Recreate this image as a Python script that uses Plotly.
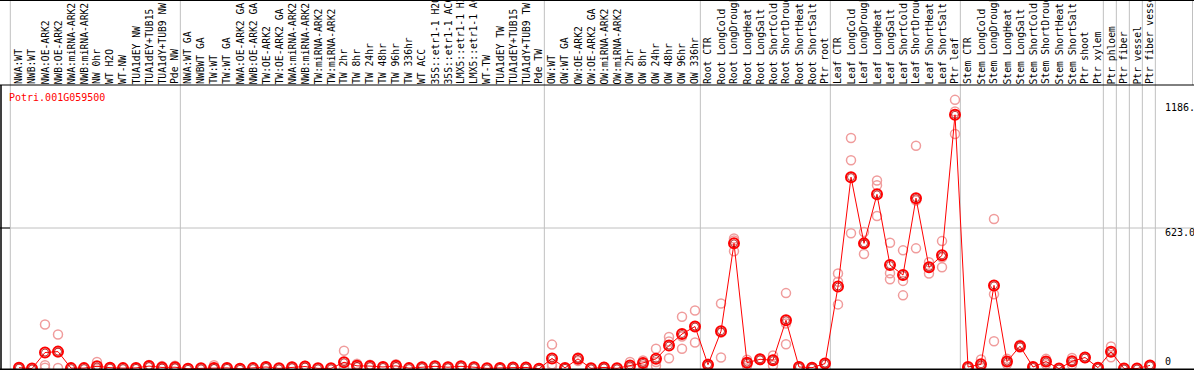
import plotly.graph_objects as go

title = "Potri.001G059500"

labels = [
    "NWA:WT", "NWB:WT", "NWA:OE-ARK2", "NWB:OE-ARK2", "NWA:miRNA-ARK2", "NWB:miRNA-ARK2",
    "NW 0hr", "WT H2O", "WT-NW", "TUA1dEY NW", "TUA1dEY+TUB15", "TUA1dY+TUB9 NW", "Pde NW",
    "NWA:WT GA", "NWBWT GA", "TW:WT", "TW:WT GA", "NWA:OE-ARK2 GA", "NWB:OE-ARK2 GA",
    "TW:OE-ARK2", "TW:OE-ARK2 GA", "NWA:miRNA-ARK2", "NWB:miRNA-ARK2", "TW:miRNA-ARK2",
    "TW:miRNA-ARK2", "TW 2hr", "TW 8hr", "TW 24hr", "TW 48hr", "TW 96hr", "TW 336hr",
    "WT ACC", "35S::etr1-1 H2O", "35S::etr1-1 ACC", "LMX5::etr1-1 H2O", "LMX5::etr1-1 ACC",
    "WT-TW", "TUA1dEY TW", "TUA1dEY+TUB15", "TUA1dY+TUB9 TW", "Pde TW",
    "OW:WT", "OW:WT GA", "OW:OE-ARK2", "OW:OE-ARK2 GA", "OW:miRNA-ARK2", "OW:miRNA-ARK2",
    "OW 2hr", "OW 8hr", "OW 24hr", "OW 48hr", "OW 96hr", "OW 336hr",
    "Root CTR", "Root LongCold", "Root LongDrought", "Root LongHeat", "Root LongSalt",
    "Root ShortCold", "Root ShortDrought", "Root ShortHeat", "Root ShortSalt", "Ptr root",
    "Leaf CTR", "Leaf LongCold", "Leaf LongDrought", "Leaf LongHeat", "Leaf LongSalt",
    "Leaf ShortCold", "Leaf ShortDrought", "Leaf ShortHeat", "Leaf ShortSalt", "Ptr leaf",
    "Stem CTR", "Stem LongCold", "Stem LongDrought", "Stem LongHeat", "Stem LongSalt",
    "Stem ShortCold", "Stem ShortDrought", "Stem ShortHeat", "Stem ShortSalt", "Ptr shoot",
    "Ptr xylem", "Ptr phloem", "Ptr fiber", "Ptr vessel", "Ptr fiber vessel",
]

mean_values = [
    5, 1, 72, 76, 3, 3, 11, 5, 3, 4, 12, 6, 7,
    0, 2, 4, 4, 0, 3, 8, 2, 7, 10, 2, 2, 29, 13, 12, 8, 13, 3, 7, 11, 7, 11, 7, 2, 4, 6, 6, 0,
    46, 4, 44, 2, 6, 2, 15, 26, 44, 103, 154, 187,
    18, 166, 555, 27, 42, 38, 215, 8, 5, 23,
    364, 848, 555, 772, 459, 415, 755, 449, 502, 1124,
    8, 20, 369, 32, 100, 8, 32, 1, 33, 50, 5,
    75, 1, 1, 15,
]

rep_a = [
    4, 1, 196, 152, 3, 3, 30, 5, 3, 4, 17, 12, 14,
    0, 2, 16, 4, 0, 3, 10, 2, 9, 13, 2, 2, 80, 22, 18, 9, 20, 3, 9, 14, 9, 14, 9, 2, 5, 8, 8, 0,
    107, 4, 35, 2, 8, 2, 30, 37, 89, 141, 230, 258,
    22, 289, 577, 40, 45, 59, 335, 10, 5, 23,
    422, 1021, 605, 833, 558, 524, 987, 472, 565, 1190,
    8, 41, 663, 44, 106, 8, 44, 1, 48, 52, 5,
    99, 1, 1, 15,
]

rep_b = [
    6, 1, 16, 72, 3, 3, 2, 5, 3, 4, 10, 4, 4,
    0, 2, 0, 4, 0, 3, 8, 2, 7, 10, 2, 2, 7, 10, 10, 8, 12, 3, 7, 11, 7, 11, 7, 2, 4, 6, 6, 0,
    20, 4, 50, 2, 6, 2, 10, 28, 30, 121, 143, 187,
    18, 160, 568, 27, 42, 40, 200, 8, 5, 23,
    385, 923, 552, 812, 423, 389, 745, 449, 492, 1139,
    8, 12, 330, 32, 100, 8, 32, 1, 33, 50, 5,
    75, 1, 1, 15,
]

rep_c = [
    5, 1, 5, 4, 3, 3, 1, 5, 3, 4, 9, 2, 3,
    0, 2, 0, 4, 0, 3, 6, 2, 5, 7, 2, 2, 0, 7, 8, 7, 7, 3, 5, 8, 5, 8, 5, 2, 3, 4, 4, 0,
    12, 4, 47, 2, 4, 2, 5, 13, 13, 47, 89, 116,
    14, 50, 520, 14, 39, 15, 109, 6, 5, 23,
    285, 600, 508, 676, 396, 325, 533, 422, 449, 1039,
    8, 7, 122, 20, 94, 8, 20, 1, 18, 48, 5,
    51, 1, 1, 15,
]

# group boundaries (index of last item in each group)
group_ends = [12, 40, 52, 62, 72, 83, 84, 85, 86, 87]

tick_values = [0, 623.0, 1186]
tick_texts = ["0", "623.0", "1186."]

W, H = 1194, 370
PX = 13.0
x0 = -19.0 / PX
x1 = x0 + W / PX
PLOT_TOP = 85.0
dom_top = (H - PLOT_TOP) / H
kpx = 140.8 / 623.0
ymin = -1.2 / kpx
ymax = ymin + (H - PLOT_TOP) / kpx

def py(pix):
    return (H - pix) / H

x = list(range(len(labels)))
red = "#ff0000"
pink = "#f09c9c"

fig = go.Figure()
for reps in (rep_a, rep_b, rep_c):
    fig.add_trace(go.Scatter(
        x=x, y=reps, mode="markers",
        marker=dict(symbol="circle-open", size=9, color=pink, line=dict(width=1.5, color=pink)),
        cliponaxis=False, hoverinfo="skip", showlegend=False,
    ))
fig.add_trace(go.Scatter(
    x=x, y=mean_values, mode="lines+markers",
    line=dict(color=red, width=1),
    marker=dict(symbol="circle-open", size=10, color=red, line=dict(width=2, color=red)),
    cliponaxis=False, showlegend=False, text=labels,
))
fig.add_trace(go.Scatter(
    x=x, y=mean_values, mode="markers",
    marker=dict(symbol="circle-open", size=7, color="#aa0000", line=dict(width=0.8, color="#aa0000")),
    cliponaxis=False, showlegend=False, hoverinfo="skip",
))

shapes = []
gray = "#c0c0c0"
shapes.append(dict(type="line", xref="x", yref="paper", x0=x0 + 10.3 / PX, x1=x0 + 10.3 / PX,
                   y0=0, y1=1, line=dict(color=gray, width=1), layer="below"))
for e in group_ends:
    xv = e + 0.41
    shapes.append(dict(type="line", xref="x", yref="paper", x0=xv, x1=xv, y0=0, y1=1,
                       line=dict(color=gray, width=1), layer="below"))
shapes.append(dict(type="line", xref="paper", yref="y", x0=0, x1=1, y0=tick_values[1], y1=tick_values[1],
                   line=dict(color=gray, width=1), layer="below"))
shapes.append(dict(type="line", xref="paper", yref="paper", x0=1192.5 / W, x1=1192.5 / W,
                   y0=py(PLOT_TOP), y1=1, line=dict(color=gray, width=1), layer="below"))
shapes.append(dict(type="line", xref="paper", yref="paper", x0=0, x1=1, y0=py(PLOT_TOP), y1=py(PLOT_TOP),
                   line=dict(color="black", width=1)))
shapes.append(dict(type="line", xref="paper", yref="paper", x0=0, x1=1, y0=py(0.5), y1=py(0.5),
                   line=dict(color="black", width=1)))
shapes.append(dict(type="line", xref="paper", yref="paper", x0=1 / W, x1=1 / W, y0=0, y1=py(PLOT_TOP),
                   line=dict(color="black", width=1.5)))
shapes.append(dict(type="line", xref="paper", yref="paper", x0=0, x1=1, y0=py(369.3), y1=py(369.3),
                   line=dict(color="black", width=1.5)))
shapes.append(dict(type="line", xref="paper", yref="y", x0=0, x1=10 / W, y0=tick_values[1], y1=tick_values[1],
                   line=dict(color="black", width=1)))

annotations = []
for i, lab in enumerate(labels):
    annotations.append(dict(
        x=i, y=py(85.5), xref="x", yref="paper", text=lab, textangle=-90,
        showarrow=False, xanchor="center", yanchor="bottom", borderpad=0,
        font=dict(family="DejaVu Sans Mono", size=9.7, color="black"),
    ))
annotations.append(dict(x=7 / W, y=py(97), xref="paper", yref="paper", text=title,
                        showarrow=False, xanchor="left", yanchor="middle",
                        font=dict(family="DejaVu Sans Mono", size=10, color=red)))
annotations.append(dict(x=1163 / W, y=py(107), xref="paper", yref="paper", text=tick_texts[2],
                        showarrow=False, xanchor="left", yanchor="middle",
                        font=dict(family="DejaVu Sans Mono", size=10, color="black")))
annotations.append(dict(x=1163 / W, y=py(232.5), xref="paper", yref="paper", text=tick_texts[1],
                        showarrow=False, xanchor="left", yanchor="middle",
                        font=dict(family="DejaVu Sans Mono", size=10, color="black")))
annotations.append(dict(x=1163 / W, y=py(361.5), xref="paper", yref="paper", text=tick_texts[0],
                        showarrow=False, xanchor="left", yanchor="middle",
                        font=dict(family="DejaVu Sans Mono", size=10, color="black")))

fig.update_layout(
    width=W, height=H,
    margin=dict(l=0, r=0, t=0, b=0),
    paper_bgcolor="white", plot_bgcolor="white",
    xaxis=dict(range=[x0, x1], domain=[0, 1], showgrid=False, zeroline=False,
               showticklabels=False, ticks="", fixedrange=True),
    yaxis=dict(range=[ymin, ymax], domain=[0, dom_top], showgrid=False, zeroline=False,
               showticklabels=False, ticks="", fixedrange=True),
    shapes=shapes, annotations=annotations, showlegend=False,
)

fig.write_html(
    "out.html",
    config={"displayModeBar": False},
    post_script="document.body.style.margin='0';document.body.style.overflow='hidden';",
)
